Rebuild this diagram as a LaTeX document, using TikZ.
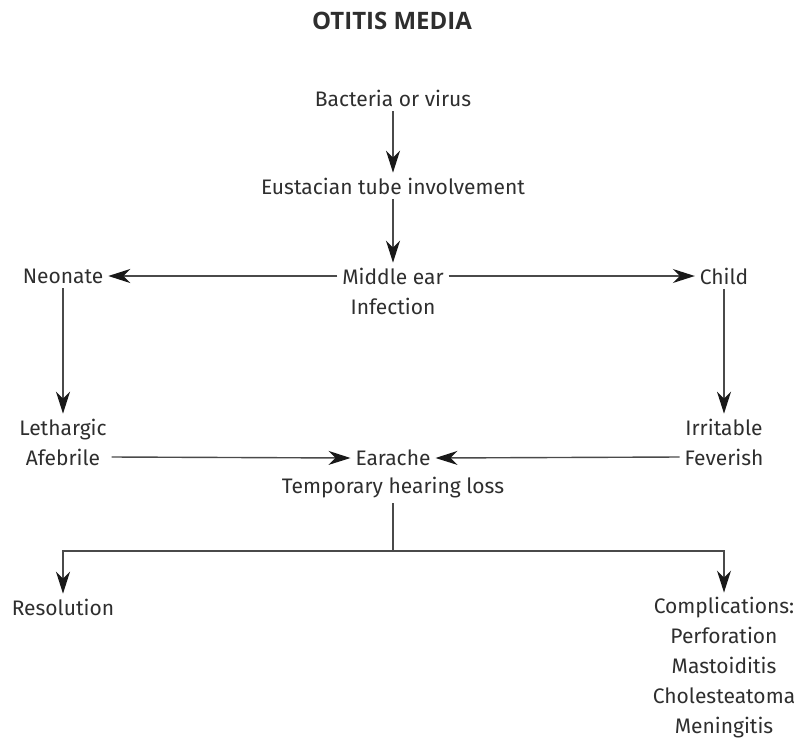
\documentclass[tikz,border=0pt]{standalone}
\usepackage{fontspec}
\setmainfont{Fira Sans}
\newfontfamily\titlefont{Open Sans}
\usetikzlibrary{arrows.meta}
\definecolor{ink}{HTML}{2E2E2E}
\definecolor{wire}{HTML}{4A4A4A}
\begin{document}
\begin{tikzpicture}[x=1pt,y=-1pt,
  lbl/.style={text=ink,font=\fontsize{21}{30}\selectfont,align=center,inner sep=5pt,outer sep=0pt},
  arr/.style={draw=wire,line width=1.4pt,-{Stealth[length=22pt,width=14pt,inset=7pt,color=black!90]}},
  link/.style={draw=wire,line width=1.4pt}]
\useasboundingbox (0,0) rectangle (798,742);
% title
\node[lbl,font=\titlefont\fontsize{24}{26}\bfseries] (title) at (392,21) {OTITIS MEDIA};
% cause chain
\node[lbl] (bact) at (393,98) {Bacteria or virus};
\node[lbl] (eust) at (393,186) {Eustacian tube involvement};
\node[lbl] (mid) at (393,291) {Middle ear\\Infection};
% age branches
\node[lbl] (neo) at (63,276) {Neonate};
\node[lbl] (child) at (724,276) {Child};
\node[lbl] (leth) at (63,442) {Lethargic\\Afebrile};
\node[lbl] (irr) at (724,442) {Irritable\\Feverish};
\node[lbl] (ear) at (393,458) {Earache};
\node[lbl] (hear) at (393,488) {Temporary hearing loss};
% outcomes
\node[lbl] (res) at (63,607) {Resolution};
\node[lbl] (comp) at (724,668) {Complications:\\Perforation\\Mastoiditis\\Cholesteatoma\\Meningitis};
% connectors
\draw[arr] (bact) -- (eust);
\draw[arr] (eust) -- (mid);
\draw[arr] ([yshift=15pt]mid.west) -- (neo.east);
\draw[arr] ([yshift=15pt]mid.east) -- (child.west);
\draw[arr] (neo) -- (leth);
\draw[arr] (child) -- (irr);
\draw[arr] ([yshift=-15pt]leth.east) -- (ear.west);
\draw[arr] ([yshift=-15pt]irr.west) -- (ear.east);
\coordinate (split) at (393,551);
\draw[link] (hear.south) -- (split);
\draw[arr] (split) -| (res.north);
\draw[arr] (split) -| (comp.north);
\end{tikzpicture}
\end{document}
